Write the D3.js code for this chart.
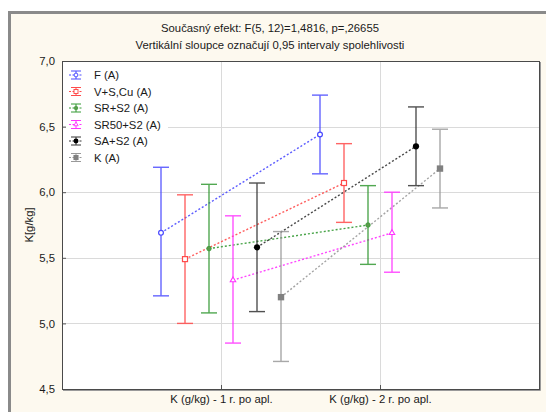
<!DOCTYPE html>
<html>
<head>
<meta charset="utf-8">
<script src="https://cdn.jsdelivr.net/npm/d3@7"></script>
<style>
  html, body { margin: 0; padding: 0; background: #ffffff; }
  svg { display: block; font-family: "Liberation Sans", Arial, sans-serif; }
</style>
</head>
<body>
<svg id="chart" width="546" height="412"></svg>
<script>
// Measurement occasions (x categories)
const categories = ["K (g/kg) - 1 r. po apl.", "K (g/kg) - 2 r. po apl."];

// Treatment groups
const seriesNames = ["F (A)", "V+S,Cu (A)", "SR+S2 (A)", "SR50+S2 (A)", "SA+S2 (A)", "K (A)"];
const seriesColors = ["#4a4aff", "#ff4a4a", "#339933", "#ff33ff", "#333333", "#999999"];
const seriesMarkers = ["circleOpen", "squareOpen", "circleSmall", "triangleOpen", "circleFilled", "squareFilled"];

// Group means per category
const means = [
  [5.69, 6.44],
  [5.49, 6.07],
  [5.57, 5.75],
  [5.33, 5.69],
  [5.58, 6.35],
  [5.20, 6.18]
];
// Lower / upper limits of the 0.95 confidence intervals
const lower = [
  [5.21, 6.14],
  [5.00, 5.77],
  [5.08, 5.45],
  [4.85, 5.39],
  [5.09, 6.05],
  [4.71, 5.88]
];
const upper = [
  [6.19, 6.74],
  [5.98, 6.37],
  [6.06, 6.05],
  [5.82, 6.00],
  [6.07, 6.65],
  [5.70, 6.48]
];

const yTicks = [4.5, 5.0, 5.5, 6.0, 6.5, 7.0];
const titleLines = ["Současný efekt: F(5, 12)=1,4816, p=,26655",
                    "Vertikální sloupce označují 0,95 intervaly spolehlivosti"];
const yTitle = "K[g/kg]";

const FS = 11.3;
const svg = d3.select("#chart");
const W = 546, H = 412;
const plot = { left: 62, top: 61, right: 539, bottom: 389 };

// Outer panel
svg.append("rect").attr("x", 9.5).attr("y", 12.5).attr("width", W).attr("height", H)
  .attr("fill", "#fdf9ef").attr("stroke", "#8a8a8a").attr("stroke-width", 3);

// Titles
svg.append("g").selectAll("text").data(titleLines).join("text")
  .attr("x", 270).attr("y", (d, i) => 32 + i * 17)
  .attr("text-anchor", "middle").attr("font-size", FS).attr("fill", "#1a1a1a")
  .text(d => d);

// Plot background
svg.append("rect").attr("x", plot.left).attr("y", plot.top)
  .attr("width", plot.right - plot.left).attr("height", plot.bottom - plot.top)
  .attr("fill", "#ffffff");

const x = d3.scalePoint().domain(categories).range([plot.left, plot.right]).padding(1);
const y = d3.scaleLinear().domain([4.5, 7.0]).range([plot.bottom, plot.top]);
const offset = d3.scalePoint().domain(d3.range(seriesNames.length)).range([-60, 60]);

const fmt = v => d3.format(".1f")(v).replace(".", ",");

// Grid lines
svg.append("g").selectAll("line").data(yTicks.slice(1, -1)).join("line")
  .attr("x1", plot.left).attr("x2", plot.right)
  .attr("y1", d => Math.round(y(d)) + 0.5).attr("y2", d => Math.round(y(d)) + 0.5)
  .attr("stroke", "#dadada").attr("stroke-width", 1);
svg.append("g").selectAll("line").data(categories).join("line")
  .attr("x1", d => Math.round(x(d)) + 0.5).attr("x2", d => Math.round(x(d)) + 0.5)
  .attr("y1", plot.top).attr("y2", plot.bottom)
  .attr("stroke", "#dadada").attr("stroke-width", 1);

// Axes
const yAxis = d3.axisLeft(y).tickValues(yTicks).tickFormat(fmt).tickSize(-4).tickPadding(7);
const gy = svg.append("g").attr("transform", `translate(${plot.left},0)`).call(yAxis);
gy.select(".domain").remove();
gy.selectAll(".tick line").attr("stroke", "#555");
gy.selectAll("text").attr("font-size", FS).attr("fill", "#1a1a1a")
  .attr("font-family", "Liberation Sans, Arial, sans-serif");

const xAxis = d3.axisBottom(x).tickSize(-4).tickPadding(6);
const gx = svg.append("g").attr("transform", `translate(0,${plot.bottom})`).call(xAxis);
gx.select(".domain").remove();
gx.selectAll(".tick line").attr("stroke", "#555");
gx.selectAll("text").attr("font-size", FS).attr("fill", "#1a1a1a")
  .attr("font-family", "Liberation Sans, Arial, sans-serif");

// Y title
svg.append("text").attr("transform", `translate(33,${(plot.top + plot.bottom) / 2}) rotate(-90)`)
  .attr("text-anchor", "middle").attr("font-size", FS).attr("fill", "#1a1a1a").text(yTitle);

// Markers
function drawMarker(g, type, color, cx, cy) {
  if (type === "circleOpen") {
    g.append("circle").attr("cx", cx).attr("cy", cy).attr("r", 2.4)
      .attr("fill", "#fff").attr("stroke", color).attr("stroke-width", 1.2);
  } else if (type === "squareOpen") {
    g.append("rect").attr("x", cx - 2.5).attr("y", cy - 2.5).attr("width", 5).attr("height", 5)
      .attr("fill", "#fff").attr("stroke", color).attr("stroke-width", 1.2);
  } else if (type === "circleSmall") {
    g.append("circle").attr("cx", cx).attr("cy", cy).attr("r", 2.3)
      .attr("fill", "#5a9a4a").attr("stroke", color).attr("stroke-width", 0.7);
  } else if (type === "triangleOpen") {
    g.append("path").attr("d", d3.symbol(d3.symbolTriangle, 13)())
      .attr("transform", `translate(${cx},${cy})`)
      .attr("fill", "#fff").attr("stroke", color).attr("stroke-width", 1.1);
  } else if (type === "circleFilled") {
    g.append("circle").attr("cx", cx).attr("cy", cy).attr("r", 3.1).attr("fill", "#000");
  } else if (type === "squareFilled") {
    g.append("rect").attr("x", cx - 3.2).attr("y", cy - 3.2).attr("width", 6.4).attr("height", 6.4)
      .attr("fill", "#808080");
  }
}

const marks = svg.append("g");
const px = (s, c) => x(categories[c]) + offset(s);

// Connecting dotted lines between occasions
seriesNames.forEach((name, s) => {
  const line = d3.line().x((d, c) => px(s, c)).y(d => y(d));
  marks.append("path").attr("d", line(means[s]))
    .attr("fill", "none").attr("stroke", seriesColors[s]).attr("stroke-width", 1.4)
    .attr("stroke-dasharray", "2,2").attr("opacity", 0.9);
});

// Confidence interval bars
seriesNames.forEach((name, s) => {
  categories.forEach((cat, c) => {
    const cx = px(s, c);
    const g = marks.append("g").attr("stroke", seriesColors[s]).attr("stroke-width", 1.4).attr("opacity", 0.85);
    g.append("line").attr("x1", cx).attr("x2", cx).attr("y1", y(lower[s][c])).attr("y2", y(upper[s][c]));
    g.append("line").attr("x1", cx - 8).attr("x2", cx + 8).attr("y1", y(lower[s][c])).attr("y2", y(lower[s][c]));
    g.append("line").attr("x1", cx - 8).attr("x2", cx + 8).attr("y1", y(upper[s][c])).attr("y2", y(upper[s][c]));
  });
});

// Means
seriesNames.forEach((name, s) => {
  categories.forEach((cat, c) => {
    drawMarker(marks, seriesMarkers[s], seriesColors[s], px(s, c), y(means[s][c]));
  });
});

// Legend
const legend = svg.append("g");
legend.append("rect").attr("x", 66).attr("y", 65).attr("width", 102).attr("height", 100).attr("fill", "#fff");
seriesNames.forEach((name, s) => {
  const cy = 75 + s * 16.5;
  const g = legend.append("g");
  const col = seriesColors[s];
  g.append("line").attr("x1", 69).attr("x2", 83).attr("y1", cy).attr("y2", cy)
    .attr("stroke", col).attr("stroke-width", 1).attr("stroke-dasharray", "2,1.5");
  g.append("line").attr("x1", 71).attr("x2", 81).attr("y1", cy - 4).attr("y2", cy - 4).attr("stroke", col).attr("stroke-width", 1);
  g.append("line").attr("x1", 71).attr("x2", 81).attr("y1", cy + 4).attr("y2", cy + 4).attr("stroke", col).attr("stroke-width", 1);
  g.append("line").attr("x1", 76).attr("x2", 76).attr("y1", cy - 4).attr("y2", cy + 4).attr("stroke", col).attr("stroke-width", 1);
  const mg = g.append("g").attr("transform", `translate(76,${cy}) scale(0.8) translate(-76,${-cy})`);
  drawMarker(mg, seriesMarkers[s], col, 76, cy);
  g.append("text").attr("x", 94).attr("y", cy + 4.3).attr("font-size", FS).attr("fill", "#1a1a1a").text(name);
});

// Plot frame
svg.append("rect").attr("x", plot.left + 0.5).attr("y", plot.top + 0.5)
  .attr("width", plot.right - plot.left).attr("height", plot.bottom - plot.top)
  .attr("fill", "none").attr("stroke", "#4a4a4a").attr("stroke-width", 1);
svg.append("path").attr("d", `M${plot.right + 1.5},${plot.top + 1}V${plot.bottom + 1.5}H${plot.left + 1}`)
  .attr("fill", "none").attr("stroke", "#9a9a9a").attr("stroke-width", 1);
</script>
</body>
</html>
